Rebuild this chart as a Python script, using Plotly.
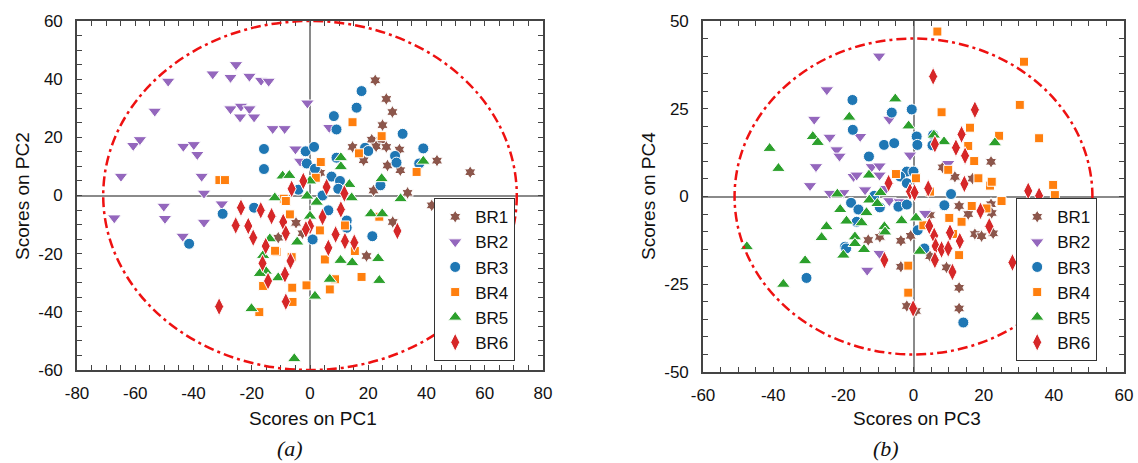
import plotly.graph_objects as go

W, H = 1138, 463

# ---- PCA scores, panel (a): PC1 vs PC2 ----
br1_a = [(22.4, 39.6), (26.2, 33.2), (28.3, 28.7), (24.9, 24.2), (21.2, 19.2), (24.4, 19.0),
         (14.6, 16.7), (22.7, 16.9), (26.2, 16.7), (30.7, 15.8), (18.4, 12.1), (26.6, 10.3),
         (31.0, 8.7), (43.6, 12.0), (55.0, 8.0), (21.8, 1.7), (33.5, 0.9), (3.5, 7.8),
         (41.8, -3.4), (28.4, -9.1), (19.4, -20.8), (-4.8, -9.4), (-10.9, -14.5), (-2.6, -13.0)]
br2_a = [(-64.9, 6.6), (-60.7, 17.2), (-58.4, 19.2), (-53.3, 29.0), (-48.7, 39.3), (-43.5, 16.9),
         (-39.9, 17.5), (-38.7, 14.1), (-37.2, 6.6), (-36.4, 0.8), (-33.4, 41.8), (-27.3, 40.6),
         (-25.4, 45.0), (-20.8, 41.0), (-16.8, 39.6), (-14.2, 39.3), (-27.3, 29.8), (-23.7, 30.7),
         (-20.8, 29.8), (-24.0, 27.0), (-19.2, 27.0), (-12.8, 23.0), (-8.7, 23.0), (-5.0, 16.0),
         (-3.4, 11.8), (-0.9, 31.8), (-67.2, -7.7), (-50.2, -3.7), (-49.8, -7.9), (-43.7, -14.0),
         (-36.4, -9.2), (-30.3, -2.9), (6.6, 23.4)]
br3_a = [(-15.8, 16.0), (-15.8, 9.1), (-1.5, 15.2), (1.4, 16.7), (-1.1, 11.0), (1.7, 9.2),
         (-4.0, 2.0), (17.7, 35.9), (16.0, 30.2), (8.2, 27.3), (9.1, 22.7), (31.8, 21.2),
         (38.9, 16.2), (18.9, 16.4), (20.0, 15.3), (29.2, 13.6), (29.7, 11.3), (37.5, 11.0),
         (9.1, 13.0), (7.4, 6.5), (10.3, 5.0), (9.7, 2.3), (4.3, 0.0), (24.2, 3.5), (6.3, -5.1),
         (12.6, -8.6), (12.6, -11.1), (21.4, -14.0), (0.9, -15.1), (-19.2, -4.2), (-30.0, -6.3),
         (-41.5, -16.6)]
br4_a = [(-31.1, 5.3), (-29.2, 5.3), (14.6, 25.2), (24.6, 20.4), (16.8, 14.5), (3.7, 11.5),
         (2.0, 6.1), (36.6, 8.1), (-9.0, -1.1), (-8.3, -1.9), (-6.9, -6.5), (12.0, -10.3),
         (23.8, -7.3), (3.4, -12.0), (-11.5, -19.4), (-12.0, -19.0), (-6.3, -21.2), (15.4, -19.1),
         (5.1, -22.0), (17.7, -28.0), (8.6, -28.8), (6.8, -32.3), (-1.2, -30.9), (-6.1, -31.7),
         (-6.0, -36.6), (-16.1, -31.1), (-17.4, -40.1)]
br5_a = [(10.6, 13.0), (10.6, 9.9), (-9.4, 6.7), (-7.1, 6.9), (0.0, 5.0), (-1.0, -0.2),
         (-12.1, -0.8), (2.3, -2.3), (13.5, 3.8), (14.3, -0.8), (24.6, 5.8), (31.1, -1.1),
         (38.9, 11.8), (0.0, -7.1), (20.9, -6.3), (24.8, -6.3), (-13.8, -14.9), (-4.4, -16.0),
         (10.5, -22.3), (14.5, -23.1), (23.4, -21.7), (-16.1, -20.6), (-15.2, -26.0),
         (-17.2, -26.8), (-10.9, -28.3), (6.8, -28.8), (23.8, -29.2), (1.7, -34.6),
         (-20.1, -38.9), (-5.4, -56.1)]
br6_a = [(-2.3, 5.0), (-6.3, 2.3), (5.7, 2.9), (11.8, 0.7), (-23.7, -4.2), (-16.9, -5.1),
         (-13.2, -7.1), (-9.2, -9.1), (-25.5, -10.3), (-21.2, -10.5), (-19.5, -14.5),
         (-8.3, -13.0), (0.0, -10.5), (-1.4, -11.6), (4.3, -7.4), (10.6, -4.8), (8.8, -13.4),
         (12.0, -15.7), (15.2, -16.2), (6.3, -18.0), (-15.2, -17.4), (-16.3, -23.3),
         (-6.7, -22.5), (-14.4, -29.4), (-8.6, -27.1), (-8.3, -36.5), (-31.2, -38.2), (30.0, -12.2)]

# ---- PCA scores, panel (b): PC3 vs PC4 ----
br1_b = [(8.3, 8.3), (11.8, 5.6), (16.8, 5.1), (22.1, 9.9), (22.1, -2.2), (22.3, -4.7),
         (13.0, -2.7), (15.6, -5.0), (4.7, -5.3), (17.5, -10.7), (19.4, -11.3), (22.7, -10.5),
         (-12.9, -12.4), (-9.6, -11.5), (-3.6, -12.6), (-0.8, -11.2), (4.7, -17.0), (-3.6, -20.0),
         (9.4, -20.2), (13.0, -26.0), (13.0, -31.9), (-1.9, -31.2), (0.7, -32.6)]
br2_b = [(-9.8, 40.0), (-24.7, 30.4), (-28.3, 22.0), (-23.9, 16.9), (-15.2, 17.1), (-21.9, 13.3),
         (-21.1, 11.5), (-27.8, 8.5), (-29.5, 3.1), (-6.9, 22.0), (-1.0, 11.8), (-11.9, 8.5),
         (-9.7, 8.7), (-17.1, 5.7), (-16.2, 6.1), (-13.8, 1.9), (-9.7, 6.1), (-23.8, 0.9),
         (-20.0, 1.1), (-7.8, 2.3), (-6.9, -1.2), (-3.9, -1.5), (3.3, -4.8), (9.9, 9.4),
         (-9.7, -16.2), (-13.2, -21.0)]
br3_b = [(-17.4, 27.5), (-17.3, 19.0), (-6.2, 23.9), (-0.5, 24.8), (-8.4, 14.7), (-5.5, 15.2),
         (0.9, 17.1), (1.1, 14.7), (-12.7, 11.4), (-1.9, 7.1), (0.0, 7.1), (-3.8, 5.7), (-1.9, 3.8),
         (-11.2, 0.2), (-17.8, -1.8), (-15.7, -3.7), (-9.6, -3.1), (-4.3, -2.9), (-1.9, -2.3),
         (-16.2, -7.2), (-19.5, -14.3), (-19.2, -14.8), (-30.5, -23.2), (1.2, -9.6), (3.1, -14.8),
         (8.8, -2.5), (10.7, 0.7), (5.6, 17.5), (5.4, 14.6), (14.2, -35.9)]
br4_b = [(6.8, 47.0), (31.5, 38.4), (30.3, 26.1), (8.0, 24.0), (16.1, 19.6), (24.4, 17.3),
         (35.8, 16.6), (15.6, 14.4), (17.3, 10.1), (9.9, 7.6), (18.5, 5.2), (21.8, 3.1), (22.3, 4.2),
         (39.8, 3.3), (40.3, 0.4), (0.7, 5.2), (4.7, 1.4), (-5.0, 6.4), (16.6, -2.7), (25.1, -1.3),
         (10.2, -6.1), (13.7, -7.2), (11.3, -10.7), (2.8, -8.2), (13.0, -16.7), (-1.5, -19.7),
         (-1.5, -27.4), (20.8, -3.4)]
br5_b = [(-5.2, 27.8), (-18.3, 22.6), (-1.4, 20.1), (-28.7, 17.1), (-27.3, 15.4), (-41.0, 13.7),
         (-38.5, 8.0), (-12.7, 6.1), (5.8, 17.5), (8.7, 15.6), (23.2, 15.3), (-21.7, 0.7),
         (-12.6, -1.0), (-9.4, 1.1), (-10.3, -2.0), (-20.9, -3.7), (-19.1, -7.0), (-14.8, -7.5),
         (-13.4, -4.6), (-24.8, -8.6), (-26.2, -11.7), (-16.7, -11.5), (-16.7, -13.4),
         (-14.1, -15.1), (-20.0, -16.7), (-30.9, -18.3), (-8.3, -8.6), (-8.1, -10.1), (-3.4, -6.9),
         (0.7, -6.1), (1.8, -15.6), (-47.5, -14.3), (-37.1, -25.0)]
br6_b = [(5.6, 34.2), (17.5, 24.7), (13.7, 17.7), (6.1, 14.9), (12.1, 13.9), (14.7, 11.6),
         (14.5, 3.6), (4.2, 2.3), (32.7, 1.6), (35.8, 0.2), (-7.1, 3.8), (-1.0, 1.4), (0.3, 1.1),
         (19.1, -4.1), (21.6, -8.5), (4.5, -8.4), (5.9, -11.2), (10.4, -10.3), (13.2, -12.7),
         (6.3, -14.1), (8.0, -15.1), (9.9, -14.8), (6.1, -18.1), (11.1, -21.5), (-8.3, -18.1),
         (-0.1, -31.9), (28.2, -18.8)]

groups = ["BR1", "BR2", "BR3", "BR4", "BR5", "BR6"]
colors = ["#8c564b", "#9467bd", "#1f77b4", "#ff7f0e", "#2ca02c", "#d62728"]
symbols = ["hexagram", "triangle-down", "circle", "square", "triangle-up", "diamond-tall"]
sizes = [10, 12, 11, 9, 12, 13]

# confidence ellipse semi-axes (a: PC1/PC2, b: PC3/PC4)
ellipse_a = (71, 60)
ellipse_b = (51, 45)

# labelled ticks; unlabelled ticks every 5 units in between
xticks_a = [-80, -60, -40, -20, 0, 20, 40, 60, 80]
yticks_a = [-60, -40, -20, 0, 20, 40, 60]
xticks_b = [-60, -40, -20, 0, 20, 40, 60]
yticks_b = [-50, -25, 0, 25, 50]
tick_step = 5


def tick_arrays(labelled):
    lo, hi = labelled[0], labelled[-1]
    vals = list(range(lo, hi + 1, tick_step))
    text = [str(v) if v in labelled else "" for v in vals]
    return vals, text


fig = go.Figure()

panels = [
    ([br1_a, br2_a, br3_a, br4_a, br5_a, br6_a], "x", "y", "legend"),
    ([br1_b, br2_b, br3_b, br4_b, br5_b, br6_b], "x2", "y2", "legend2"),
]
for series, xa, ya, leg in panels:
    for name, pts, col, sym, sz in zip(groups, series, colors, symbols, sizes):
        fig.add_trace(go.Scatter(
            x=[p[0] for p in pts], y=[p[1] for p in pts],
            mode="markers", name=name, xaxis=xa, yaxis=ya, legend=leg,
            marker=dict(symbol=sym, size=sz, color=col,
                        line=dict(color="white", width=1)),
        ))


def px_x(p):
    return p / W


def px_y(p):
    return 1 - p / H


frame = "#444444"
axis_common = dict(
    showline=True, linecolor=frame, linewidth=1.6, mirror="ticks",
    ticks="inside", ticklen=5, tickwidth=1.2, tickcolor=frame,
    showgrid=False, zeroline=True, zerolinecolor="#8a8a8a", zerolinewidth=2,
    tickfont=dict(size=17, color="#111111"), automargin=False, tickmode="array",
)


def axis(domain, rng, anchor, labelled, standoff):
    vals, text = tick_arrays(labelled)
    return dict(domain=domain, range=rng, anchor=anchor, tickvals=vals, ticktext=text,
                ticklabelstandoff=standoff, **axis_common)


legend_style = dict(xanchor="left", yanchor="top", bordercolor="#333333", borderwidth=1.2,
                    bgcolor="white", font=dict(size=17, color="#111111"), tracegroupgap=0)

fig.update_layout(
    width=W, height=H,
    margin=dict(l=0, r=0, t=0, b=0, pad=0, autoexpand=False),
    paper_bgcolor="white", plot_bgcolor="white",
    font=dict(family="Liberation Sans, Arial, sans-serif", size=16, color="#111111"),
    xaxis=axis([px_x(77), px_x(543)], [-80, 80], "y", xticks_a, 7),
    yaxis=axis([px_y(370), px_y(21)], [-60, 60], "x", yticks_a, 9),
    xaxis2=axis([px_x(703), px_x(1124)], [-60, 60], "y2", xticks_b, 7),
    yaxis2=axis([px_y(372), px_y(21)], [-50, 50], "x2", yticks_b, 9),
    legend=dict(x=px_x(434), y=px_y(198), **legend_style),
    legend2=dict(x=px_x(1016), y=px_y(198), **legend_style),
    showlegend=True,
)

# 95% confidence ellipses
for (ax, ay), xr, yr in [(ellipse_a, "x", "y"), (ellipse_b, "x2", "y2")]:
    fig.add_shape(type="circle", xref=xr, yref=yr, x0=-ax, x1=ax, y0=-ay, y1=ay,
                  line=dict(color="#ee1111", width=2.5, dash="10px,4px,3px,4px"),
                  layer="above")

# axis titles and panel captions
notes = [
    ("Scores on PC1", 313, 418, 0, 19, "Liberation Sans, Arial"),
    ("Scores on PC2", 22, 196, -90, 19, "Liberation Sans, Arial"),
    ("Scores on PC3", 917, 418, 0, 19, "Liberation Sans, Arial"),
    ("Scores on PC4", 648, 196, -90, 19, "Liberation Sans, Arial"),
    ("<i>(a)</i>", 290, 448, 0, 22, "Liberation Serif, Times New Roman"),
    ("<i>(b)</i>", 886, 448, 0, 22, "Liberation Serif, Times New Roman"),
]
for text, x, y, ang, size, fam in notes:
    fig.add_annotation(text=text, x=px_x(x), y=px_y(y), xref="paper", yref="paper",
                       showarrow=False, textangle=ang, xanchor="center", yanchor="middle",
                       font=dict(size=size, family=fam, color="#111111"))

fig.write_html("out.html")
